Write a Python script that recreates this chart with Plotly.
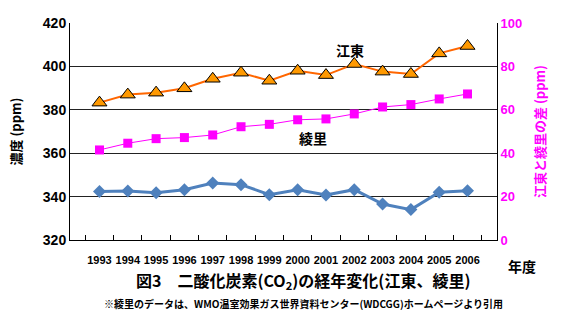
import plotly.graph_objects as go

years = [str(y) for y in range(1993, 2007)]
koto = [383.3, 387.0, 387.9, 389.9, 394.3, 397.1, 393.4, 398.0, 396.0, 401.1, 397.6, 396.5, 406.0, 409.4]
ryori = [361.5, 364.6, 366.7, 367.2, 368.4, 372.2, 373.3, 375.4, 375.8, 378.1, 381.3, 382.4, 385.0, 387.3]
diff = [22.3, 22.6, 21.8, 23.2, 26.3, 25.5, 20.9, 23.2, 20.7, 23.2, 16.6, 14.0, 22.0, 22.7]

left_ticks = [320, 340, 360, 380, 400, 420]
right_ticks = [0, 20, 40, 60, 80, 100]

JP = "Noto Sans CJK JP"
NUM = "Liberation Sans"

fig = go.Figure()
fig.add_trace(go.Scatter(x=years, y=diff, yaxis="y2", mode="lines+markers",
                         line=dict(color="#4F81BD", width=3),
                         marker=dict(symbol="diamond", size=10, color="#4F81BD")))
fig.add_trace(go.Scatter(x=years, y=ryori, mode="lines+markers",
                         line=dict(color="#FF00FF", width=1),
                         marker=dict(symbol="square", size=9, color="#FF00FF")))
fig.add_trace(go.Scatter(x=years, y=koto, mode="lines+markers",
                         line=dict(color="#FF6600", width=2),
                         marker=dict(symbol="triangle-up", size=13, color="#FF9900",
                                     line=dict(color="black", width=1))))

fig.update_layout(
    width=577, height=327,
    margin=dict(l=70, r=80, t=23, b=87),
    paper_bgcolor="white", plot_bgcolor="white",
    showlegend=False,
    xaxis=dict(type="category", showline=True, linecolor="black", linewidth=1,
               ticks="inside", tickson="boundaries", ticklen=5, tickcolor="black",
               showgrid=False, tickangle=0, ticklabelstandoff=10,
               tickfont=dict(family=NUM, size=11, color="black", weight="bold")),
    yaxis=dict(range=[320, 420], tickvals=left_ticks, showline=True, linecolor="black",
               linewidth=1, showgrid=True, gridcolor="#222222", gridwidth=1,
               zeroline=False, ticks="",
               tickfont=dict(family=NUM, size=14, color="black", weight="bold"),
               title=dict(text="濃度 (ppm)", standoff=18,
                          font=dict(family=JP, size=13, color="black", weight="bold"))),
    yaxis2=dict(range=[0, 100], tickvals=right_ticks, overlaying="y", side="right",
                showline=True, linecolor="black", linewidth=1, showgrid=False,
                zeroline=False, ticks="",
                tickfont=dict(family=NUM, size=13, color="#FF00FF", weight="bold"),
                title=dict(text="江東と綾里の差 (ppm)", standoff=14,
                           font=dict(family=JP, size=13, color="#FF00FF", weight="bold"))),
    annotations=[
        dict(text="江東", x=350, y=50, showarrow=False,
             font=dict(family=JP, size=14, color="black", weight="bold")),
        dict(text="綾里", x=313, y=138, showarrow=False,
             font=dict(family=JP, size=14, color="black", weight="bold")),
        dict(text="年度", x=522, y=266, showarrow=False,
             font=dict(family=JP, size=14, color="black", weight="bold")),
        dict(text="図3　二酸化炭素(CO<sub>2</sub>)の経年変化(江東、綾里)", x=303, y=280, showarrow=False,
             font=dict(family=JP, size=16, color="black", weight="bold")),
        dict(text="※綾里のデータは、WMO温室効果ガス世界資料センター(WDCGG)ホームページより引用", x=303, y=303,
             showarrow=False,
             font=dict(family=JP, size=10, color="black", weight="bold")),
    ],
)

# convert pixel annotation positions to paper coords
W, H = 577, 327
l, r, t, b = 70, 80, 23, 87
pw, ph = W - l - r, H - t - b
for a in fig.layout.annotations:
    px, py = a.x, a.y
    a.xref = "paper"; a.yref = "paper"
    a.x = (px - l) / pw
    a.y = 1 - (py - t) / ph
    a.xanchor = "center"; a.yanchor = "middle"

fig.write_html("out.html")
